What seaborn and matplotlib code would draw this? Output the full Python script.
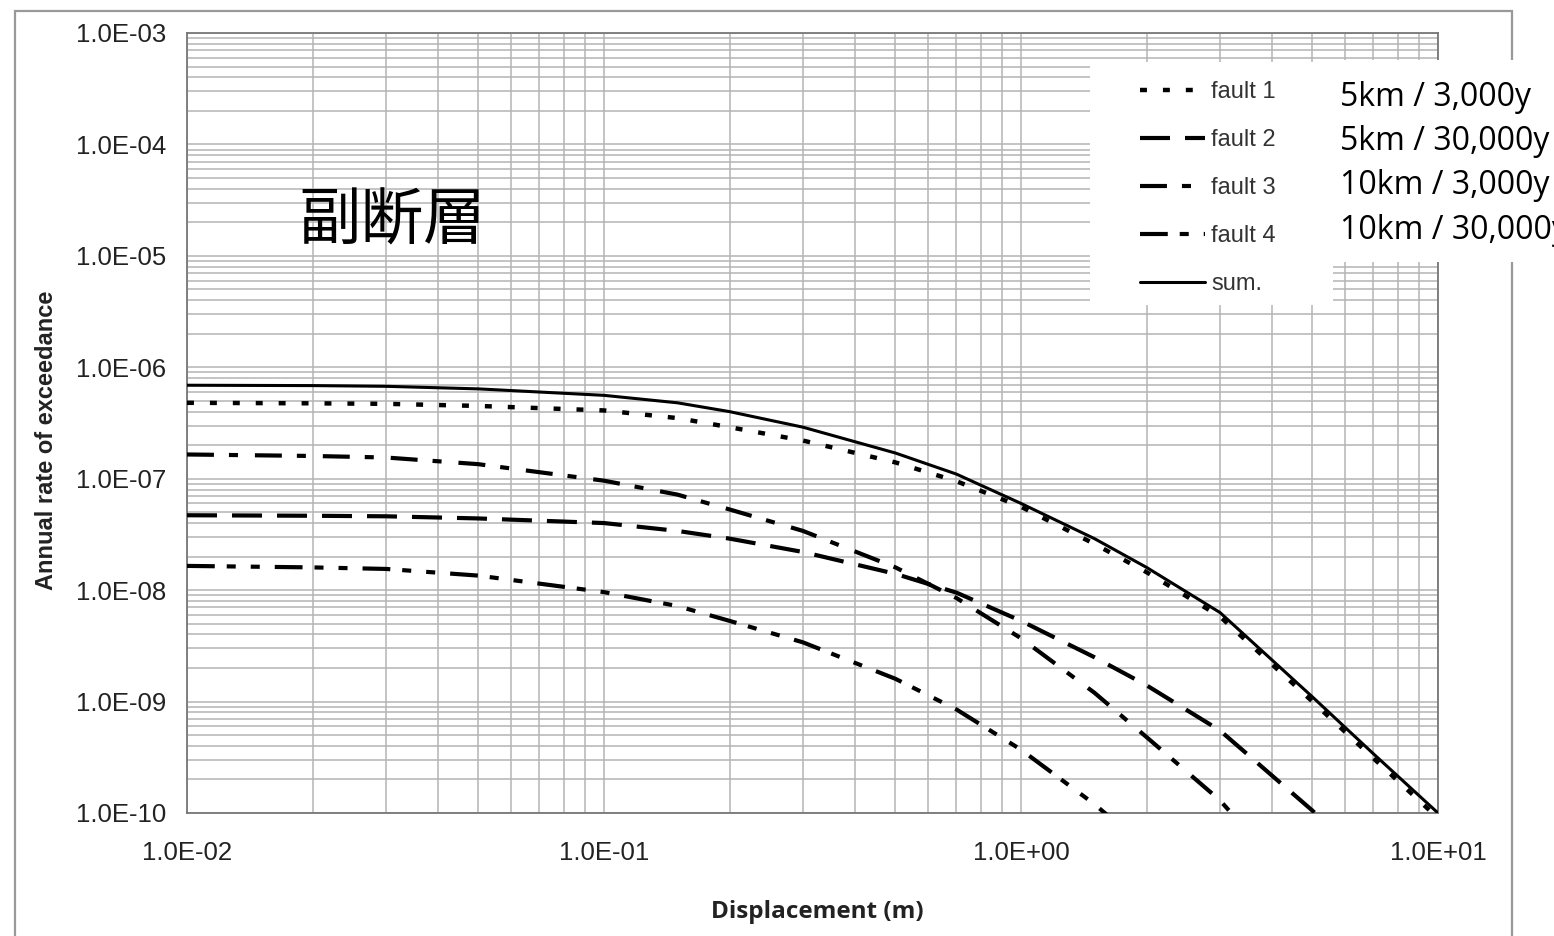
import numpy as np
import pandas as pd
import matplotlib
matplotlib.use("Agg")
import matplotlib.pyplot as plt
import matplotlib.ticker as mticker
from matplotlib.patches import Rectangle
import seaborn as sns

# values (displacement in m, annual rate)
disp = [0.01, 0.02, 0.03, 0.05, 0.1, 0.15, 0.2, 0.3, 0.5, 0.7, 1.0, 1.5, 2.0, 3.0, 5.0, 7.0, 10.0]
fault1 = [4.8e-7, 4.75e-7, 4.7e-7, 4.5e-7, 4.1e-7, 3.5e-7, 2.9e-7, 2.2e-7, 1.4e-7, 9.5e-8,
          5.6e-8, 2.6e-8, 1.45e-8, 5.8e-9, 1.0e-9, 3.1e-10, 9.0e-11]
fault2 = [4.7e-8, 4.65e-8, 4.6e-8, 4.4e-8, 4.0e-8, 3.4e-8, 2.9e-8, 2.2e-8, 1.4e-8, 9.5e-9,
          5.3e-9, 2.5e-9, 1.4e-9, 5.5e-10, 1.05e-10, 3.0e-11, np.nan]
fault3 = [1.65e-7, 1.6e-7, 1.55e-7, 1.35e-7, 9.6e-8, 7.2e-8, 5.3e-8, 3.4e-8, 1.6e-8, 8.5e-9,
          3.7e-9, 1.2e-9, 4.8e-10, 1.3e-10, 1.5e-11, np.nan, np.nan]
fault4 = [1.65e-8, 1.6e-8, 1.55e-8, 1.35e-8, 9.6e-9, 7.2e-9, 5.3e-9, 3.4e-9, 1.6e-9, 8.5e-10,
          3.7e-10, 1.2e-10, 4.8e-11, np.nan, np.nan, np.nan, np.nan]
total = [6.9e-7, 6.85e-7, 6.75e-7, 6.4e-7, 5.6e-7, 4.8e-7, 4.0e-7, 2.9e-7, 1.7e-7, 1.1e-7,
         6.0e-8, 2.9e-8, 1.6e-8, 6.3e-9, 1.1e-9, 3.4e-10, 1.0e-10]

labels = ["fault 1", "fault 2", "fault 3", "fault 4", "sum."]
notes = ["5km / 3,000y", "5km / 30,000y", "10km / 3,000y", "10km / 30,000y"]

sns.set_style("white")
plt.rcParams["font.family"] = ["Liberation Sans", "DejaVu Sans"]
plt.rcParams["lines.scale_dashes"] = False

fig = plt.figure(figsize=(15.54, 9.36), dpi=100)
ax = fig.add_axes([187 / 1554, 1 - 813 / 936, 1251 / 1554, 780 / 936])

styles = {
    "fault 1": dict(linestyle=(0, (5, 11.5)), lw=3.2),
    "fault 2": dict(linestyle=(0, (21.6, 10.8)), lw=3.0),
    "fault 3": dict(linestyle=(0, (19.4, 10.8, 6.5, 12.2)), lw=3.0),
    "fault 4": dict(linestyle=(0, (20, 8.6, 6.5, 10.8, 6.5, 10.8)), lw=3.0),
    "sum.": dict(linestyle="-", lw=2.2),
}

for lab, vals in zip(labels, [fault1, fault2, fault3, fault4, total]):
    df = pd.DataFrame({"disp": disp, "rate": vals}).dropna()
    sns.lineplot(data=df, x="disp", y="rate", ax=ax, color="black", label=lab,
                 dash_capstyle="butt", zorder=3, **styles[lab])

ax.set_xscale("log")
ax.set_yscale("log")
ax.set_xlim(0.01, 10)
ax.set_ylim(1e-10, 1e-3)

fmt = mticker.FuncFormatter(lambda v, p: f"{v:.1E}")
ax.xaxis.set_major_locator(mticker.LogLocator(base=10, numticks=20))
ax.yaxis.set_major_locator(mticker.LogLocator(base=10, numticks=20))
ax.xaxis.set_minor_locator(mticker.LogLocator(base=10, subs=np.arange(2, 10), numticks=50))
ax.yaxis.set_minor_locator(mticker.LogLocator(base=10, subs=np.arange(2, 10), numticks=50))
ax.xaxis.set_major_formatter(fmt)
ax.yaxis.set_major_formatter(fmt)
ax.xaxis.set_minor_formatter(mticker.NullFormatter())
ax.yaxis.set_minor_formatter(mticker.NullFormatter())
ax.tick_params(axis="both", which="both", length=0, labelsize=18.5, colors="#222222")
ax.tick_params(axis="x", pad=20)
ax.tick_params(axis="y", pad=15)

ax.grid(True, which="both", color="#b4b4b4", lw=1.1)
ax.set_axisbelow(True)
for s in ax.spines.values():
    s.set_color("#777777")
    s.set_linewidth(1.3)

ax.set_xlabel("Displacement (m)", fontsize=17.5, fontweight="bold", family=["Open Sans", "DejaVu Sans"],
              color="#222222")
ax.set_ylabel("Annual rate of exceedance", fontsize=17, fontweight="bold", color="#222222")
ax.xaxis.set_label_coords(0.504, -0.111)
ax.yaxis.set_label_coords(-0.103, 0.478)

# white area behind the legend
ax.add_patch(Rectangle((1090 / 1554, 1 - 305 / 936), 243 / 1554, 243 / 936,
                       transform=fig.transFigure, facecolor="white", edgecolor="none", zorder=2.5))
leg = ax.legend(loc="upper left", bbox_to_anchor=(1131 / 1554, 1 - 72 / 936),
                bbox_transform=fig.transFigure, frameon=False, fontsize=17,
                handlelength=2.75, handletextpad=0.25, labelspacing=1.1,
                borderpad=0.4, borderaxespad=0)
for t in leg.get_texts():
    t.set_color("#333333")

ax.text(0.164, 0.759, "副断層", transform=ax.transAxes, fontsize=45, color="black",
        family=["Noto Sans CJK JP", "DejaVu Sans"], ha="center", va="center")

# white box behind the notes
fig.patches.append(Rectangle((1333 / 1554, 1 - 262 / 936), 0.2, 202 / 936,
                             transform=fig.transFigure, facecolor="white", edgecolor="none",
                             zorder=5))
for i, n in enumerate(notes):
    fig.text(1340 / 1554, 1 - (97 + 44.5 * i) / 936, n, fontsize=23,
             family=["Open Sans", "DejaVu Sans"], color="black", ha="left", va="center",
             zorder=6)

# outer frame
fig.patches.append(Rectangle((15 / 1554, -0.02), (1512 - 15) / 1554, 1.02 - 11 / 936,
                             transform=fig.transFigure, fill=False, edgecolor="#999999",
                             lw=1.6, zorder=4))

fig.savefig("out.png", dpi=100, facecolor="white")
